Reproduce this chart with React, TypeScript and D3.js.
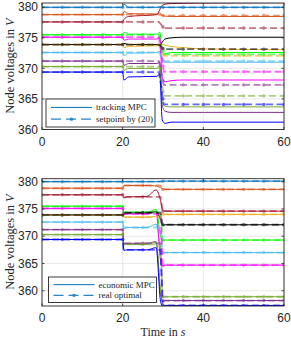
import * as d3 from 'd3'

const W = 291
const H = 339

// node colours (MATLAB order + extras)
const COLORS = ['#0072BD', '#D95319', '#EDB120', '#7E2F8E', '#77AC30', '#4DBEEE', '#A2142F', '#00FF00', '#FF00FF', '#000000', '#0000FF']

// voltages before t = 20 s (same in both panels)
const INITIAL = [380, 378.8, 373.9, 371.2, 370.3, 372.6, 377.6, 375.5, 375.1, 373.9, 369.4]

// --- upper panel: tracking MPC vs setpoint by (20)
const TRACK_T = [0, 20, 20.3, 21.5, 28.5, 29.2, 29.8, 30.5, 32, 35, 40, 60]
const TRACK_MPC = [
  [380, 380, 380.5, 380, 380, 380.05, 380, 380, 380, 380, 380, 380],
  [378.8, 378.8, 379.3, 378.95, 378.9, 379.1, 378.7, 378.55, 378.5, 378.5, 378.5, 378.5],
  [373.9, 373.9, 373.4, 373.6, 373.7, 374.0, 374.0, 373.8, 373.6, 373.4, 373.2, 373.05],
  [371.2, 371.2, 370.5, 370.8, 370.8, 371.0, 364.0, 363.0, 362.8, 362.8, 362.8, 362.8],
  [370.3, 370.3, 369.7, 370.0, 370.0, 370.3, 364.5, 363.8, 363.7, 363.7, 363.7, 363.7],
  [372.6, 372.6, 372.1, 372.5, 372.6, 372.8, 371.5, 371.0, 371.0, 371.0, 371.0, 371.0],
  [377.6, 377.6, 378.0, 378.5, 378.8, 379.6, 380.3, 380.5, 380.6, 380.65, 380.7, 380.75],
  [375.5, 375.5, 375.9, 375.6, 375.6, 375.9, 372.8, 372.4, 372.6, 372.6, 372.6, 372.6],
  [375.1, 375.1, 374.6, 374.8, 374.8, 375.0, 368.5, 367.8, 368.0, 368.1, 368.1, 368.1],
  [373.9, 373.9, 374.1, 373.9, 373.9, 373.7, 374.3, 374.8, 375.0, 375.1, 375.1, 375.1],
  [369.4, 369.4, 368.1, 368.6, 368.7, 369.1, 361.6, 361.0, 361.2, 361.2, 361.2, 361.2],
]
const SETPOINT_T = [0, 29, 30.2, 60]
const SETPOINT_END = [380, 378.65, 372.05, 367.3, 365.5, 371.2, 376.6, 372.3, 369.45, 373.15, 364.1]

// --- lower panel: economic MPC vs real optimal
const ECON_T = [0, 20, 20.3, 21, 26, 28.3, 29.4, 29.9, 30.5, 32, 60]
const ECON_MPC = [
  [380, 380, 380, 380, 380, 380, 380.05, 380.1, 380.1, 380.1, 380.1],
  [378.8, 378.8, 379.3, 379.3, 379.3, 379.2, 378.9, 378.7, 378.6, 378.6, 378.6],
  [373.9, 373.9, 373.5, 373.5, 373.5, 373.7, 374.0, 374.2, 374.0, 374.0, 374.0],
  [371.2, 371.2, 368.6, 368.7, 368.7, 369.0, 359.5, 358.0, 358.2, 358.2, 358.2],
  [370.3, 370.3, 368.4, 368.5, 368.5, 368.9, 360.0, 358.8, 358.9, 358.9, 358.9],
  [372.6, 372.6, 371.4, 371.6, 371.6, 372.2, 368.0, 366.8, 367.0, 367.0, 367.0],
  [377.6, 377.6, 377.0, 377.2, 377.3, 378.5, 376.5, 374.8, 374.6, 374.6, 374.6],
  [375.5, 375.5, 374.3, 374.4, 374.4, 374.9, 370.0, 369.2, 369.3, 369.3, 369.3],
  [375.1, 375.1, 374.0, 374.1, 374.1, 374.5, 365.5, 364.5, 364.7, 364.7, 364.7],
  [373.9, 373.9, 374.2, 374.3, 374.3, 374.5, 373.0, 372.0, 372.1, 372.1, 372.1],
  [369.4, 369.4, 367.4, 367.5, 367.5, 367.9, 358.0, 357.2, 357.3, 357.3, 357.3],
]
const REAL_T = [0, 20, 20.2, 29.4, 29.9, 60]
const REAL_MID = [380, 379.3, 373.5, 368.7, 368.5, 371.6, 377.2, 374.4, 374.1, 374.3, 367.5]
const REAL_END = [380.1, 378.6, 374.0, 358.2, 358.9, 367.0, 374.6, 369.3, 364.7, 372.1, 357.3]

const X_TICKS = [0, 20, 40, 60]
const Y_TICKS = [360, 365, 370, 375, 380]
const MARKER_T = [0, 5, 10, 15, 20, 25, 30, 35, 40, 45, 50, 55, 60]

const AX = '#262626'
const GRID = '#e3e3e3'
const SANS = 'Liberation Sans, Arial, sans-serif'
const SERIF = 'Liberation Serif, Times New Roman, serif'

const x = d3.scaleLinear().domain([0, 60]).range([42, 284])

type Pt = [number, number]

function interpAt(pts: Pt[], t: number) {
  const i = d3.bisector((p: Pt) => p[0]).right(pts, t)
  if (i <= 0) return pts[0][1]
  if (i >= pts.length) return pts[pts.length - 1][1]
  const a = pts[i - 1], b = pts[i]
  return d3.interpolateNumber(a[1], b[1])((t - a[0]) / (b[0] - a[0]))
}

function Panel({ id, top, bottom, domain, solid, dashed, legend, legendBox, labelY }: {
  id: string; top: number; bottom: number; domain: [number, number]
  solid: Pt[][]; dashed: Pt[][]; legend: [string, string]; legendBox: [number, number, number, number]; labelY: number
}) {
  const y = d3.scaleLinear().domain(domain).range([bottom, top])
  const solidLine = d3.line<Pt>().x(d => x(d[0])).y(d => y(d[1])).curve(d3.curveMonotoneX)
  const dashLine = d3.line<Pt>().x(d => x(d[0])).y(d => y(d[1]))
  const [lx, ly, lw, lh] = legendBox
  return (
    <g>
      <defs>
        <clipPath id={id}><rect x={x(0)} y={top} width={x(60) - x(0)} height={bottom - top} /></clipPath>
      </defs>
      <rect x={x(0)} y={top} width={x(60) - x(0)} height={bottom - top} fill="#fff" />
      {X_TICKS.map(t => <line key={'gx' + t} x1={x(t)} x2={x(t)} y1={top} y2={bottom} stroke={GRID} strokeWidth={0.8} />)}
      {Y_TICKS.map(v => <line key={'gy' + v} x1={x(0)} x2={x(60)} y1={y(v)} y2={y(v)} stroke={GRID} strokeWidth={0.8} />)}
      <g clipPath={`url(#${id})`}>
        {solid.map((pts, i) => (
          <path key={'s' + i} d={solidLine(pts) ?? ''} fill="none" stroke={COLORS[i]} strokeWidth={1} />
        ))}
        {dashed.map((pts, i) => (
          <g key={'d' + i} opacity={0.6}>
            <path d={dashLine(pts) ?? ''} fill="none" stroke={COLORS[i]} strokeWidth={1.8} strokeDasharray="7,3.5" />
            {MARKER_T.map(t => <circle key={t} cx={x(t)} cy={y(interpAt(pts, t))} r={1.7} fill={COLORS[i]} />)}
          </g>
        ))}
      </g>
      <rect x={x(0)} y={top} width={x(60) - x(0)} height={bottom - top} fill="none" stroke={AX} strokeWidth={0.9} />
      {X_TICKS.map(t => (
        <g key={'tx' + t}>
          <line x1={x(t)} x2={x(t)} y1={bottom} y2={bottom - 2.5} stroke={AX} strokeWidth={0.8} />
          <line x1={x(t)} x2={x(t)} y1={top} y2={top + 2.5} stroke={AX} strokeWidth={0.8} />
          <text x={x(t)} y={bottom + 16} textAnchor="middle" fontFamily={SANS} fontSize={12} fill={AX}>{t}</text>
        </g>
      ))}
      {Y_TICKS.map(v => (
        <g key={'ty' + v}>
          <line x1={x(0)} x2={x(0) + 2.5} y1={y(v)} y2={y(v)} stroke={AX} strokeWidth={0.8} />
          <line x1={x(60)} x2={x(60) - 2.5} y1={y(v)} y2={y(v)} stroke={AX} strokeWidth={0.8} />
          <text x={x(0) - 4} y={y(v) + 4.2} textAnchor="end" fontFamily={SANS} fontSize={12} fill={AX}>{v}</text>
        </g>
      ))}
      <text transform={`translate(14,${labelY}) rotate(-90)`} textAnchor="middle" fontFamily={SERIF} fontSize={12.5} fill={AX}>
        Node voltages in <tspan fontStyle="italic">V</tspan>
      </text>
      <g>
        <rect x={lx} y={ly} width={lw} height={lh} fill="#fff" stroke={AX} strokeWidth={0.9} />
        <line x1={lx + 5} x2={lx + 46} y1={ly + lh * 0.3} y2={ly + lh * 0.3} stroke={COLORS[0]} strokeWidth={1} />
        <text x={lx + 50} y={ly + lh * 0.3 + 3} fontFamily={SERIF} fontSize={9} fill={AX}>{legend[0]}</text>
        <g opacity={0.85}>
          <line x1={lx + 5} x2={lx + 46} y1={ly + lh * 0.72} y2={ly + lh * 0.72} stroke={COLORS[0]} strokeWidth={1.2} strokeDasharray="10,5" />
          <circle cx={lx + 25.5} cy={ly + lh * 0.72} r={1.7} fill={COLORS[0]} />
        </g>
        <text x={lx + 50} y={ly + lh * 0.72 + 3} fontFamily={SERIF} fontSize={9} fill={AX}>{legend[1]}</text>
      </g>
    </g>
  )
}

export default function App() {
  const trackSolid = TRACK_MPC.map(vals => vals.map((v, j) => [TRACK_T[j], v] as Pt))
  const setpoint = INITIAL.map((v0, i) => [v0, v0, SETPOINT_END[i], SETPOINT_END[i]].map((v, j) => [SETPOINT_T[j], v] as Pt))
  const econSolid = ECON_MPC.map(vals => vals.map((v, j) => [ECON_T[j], v] as Pt))
  const realOpt = INITIAL.map((v0, i) =>
    [v0, v0, REAL_MID[i], REAL_MID[i], REAL_END[i], REAL_END[i]].map((v, j) => [REAL_T[j], v] as Pt))

  return (
    <svg width={W} height={H} style={{ position: 'absolute', left: 0, top: 0, background: '#fff' }}>
      <Panel id="clipTop" top={3} bottom={129.5} domain={[360, 380.7]}
        solid={trackSolid} dashed={setpoint}
        legend={['tracking MPC', 'setpoint by (20)']} legendBox={[46, 99, 109, 28]} labelY={66} />
      <Panel id="clipBot" top={178.7} bottom={306} domain={[357.2, 380.55]}
        solid={econSolid} dashed={realOpt}
        legend={['economic MPC', 'real optimal']} legendBox={[48.5, 277, 108, 25.5]} labelY={242} />
      <text x={163} y={336} textAnchor="middle" fontFamily={SERIF} fontSize={12} fill={AX}>
        Time in <tspan fontStyle="italic">s</tspan>
      </text>
    </svg>
  )
}
